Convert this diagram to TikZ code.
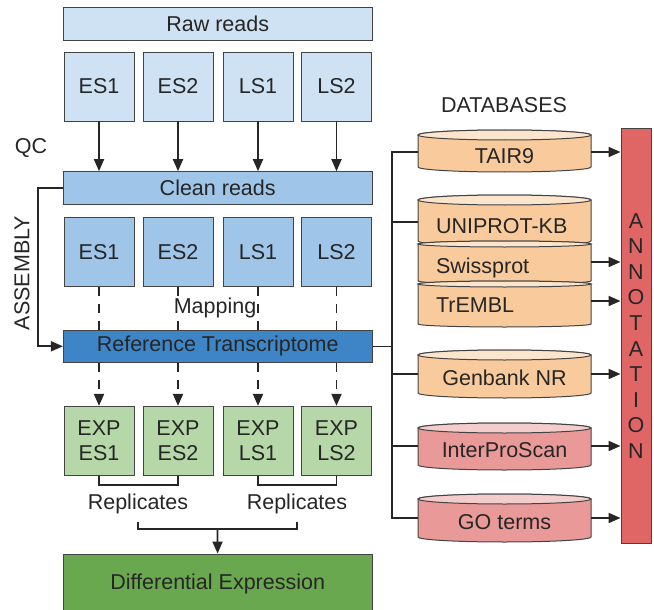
\documentclass[tikz,border=0pt]{standalone}
\usepackage{fontspec}
\setmainfont{Liberation Sans}
\usetikzlibrary{arrows.meta,positioning,calc}

\definecolor{rawblue}{HTML}{CFE2F3}
\definecolor{cleanblue}{HTML}{9FC5E8}
\definecolor{refblue}{HTML}{3D85C6}
\definecolor{expgreen}{HTML}{B6D7A8}
\definecolor{diffgreen}{HTML}{6AA84F}
\definecolor{dborange}{HTML}{F9CB9C}
\definecolor{dborangelid}{HTML}{FCE5CD}
\definecolor{dbred}{HTML}{EA9999}
\definecolor{dbredlid}{HTML}{F4CCCC}
\definecolor{annotred}{HTML}{E06666}
\definecolor{edge}{HTML}{434343}

% database drum: top y, bottom y, lid radius, body colour, lid colour
\newcommand{\dbdrum}[5]{%
  \filldraw[draw=edge, line width=1pt, fill=#4] (418,#1) -- (418,#2)
    arc[start angle=180, end angle=360, x radius=86.5pt, y radius=#3pt]
    -- (591,#1)
    arc[start angle=0, end angle=180, x radius=86.5pt, y radius=#3pt] -- cycle;
  \filldraw[draw=edge, line width=1pt, fill=#5] (504.5,#1) ellipse[x radius=86.5pt, y radius=#3pt];
}

\begin{document}
\begin{tikzpicture}[
    x=1pt, y=1pt,
    every node/.style={font=\fontsize{21.5}{25}\selectfont, text=black!85},
    box/.style={draw=edge, line width=0.9pt, minimum width=70pt, minimum height=69pt, align=center, inner sep=0pt},
    wide/.style={draw=edge, line width=0.9pt, minimum width=308.7pt, minimum height=32.7pt, inner sep=0pt},
    dbtxt/.style={minimum width=173pt, inner sep=0pt, text height=22pt, text depth=0pt},
    dbleft/.style={text width=137pt, inner xsep=18pt, inner ysep=0pt, align=left, text height=22pt, text depth=0pt},
    arr/.style={-{Triangle[length=12pt, width=10pt]}, line width=1.8pt, black!85},
    dashln/.style={dash pattern=on 9pt off 8pt, line width=1.8pt, black!85},
    wire/.style={line width=1.6pt, black!85},
    lbl/.style={fill=white, inner sep=1pt}
]
\useasboundingbox (0,0) rectangle (654,-610);

% left column
\node[wide, fill=rawblue] (raw) at (217.7,-23.7) {Raw reads};
\node[box, fill=rawblue] (r1) at (99,-86.5) {ES1};
\node[box, fill=rawblue] (r2) at (178,-86.5) {ES2};
\node[box, fill=rawblue] (r3) at (258,-86.5) {LS1};
\node[box, fill=rawblue] (r4) at (336.5,-86.5) {LS2};
\node (qc) at (31,-148) {QC};
\node[wide, fill=cleanblue] (clean) at (217.7,-188) {Clean reads};
\node[box, fill=cleanblue] (c1) at (99,-251.7) {ES1};
\node[box, fill=cleanblue] (c2) at (178,-251.7) {ES2};
\node[box, fill=cleanblue] (c3) at (258,-251.7) {LS1};
\node[box, fill=cleanblue] (c4) at (336.5,-251.7) {LS2};
\node[rotate=90] (asm) at (22,-273) {ASSEMBLY};
\node[wide, fill=refblue] (ref) at (217.7,-346.3) {Reference Transcriptome};
\node[box, fill=expgreen] (e1) at (99,-440.8) {EXP\\ES1};
\node[box, fill=expgreen] (e2) at (178,-440.8) {EXP\\ES2};
\node[box, fill=expgreen] (e3) at (258,-440.8) {EXP\\LS1};
\node[box, fill=expgreen] (e4) at (336.5,-440.8) {EXP\\LS2};
\node (rep1) at (138,-504) {Replicates};
\node (rep2) at (297,-504) {Replicates};
\node[wide, minimum height=60pt, fill=diffgreen] (diff) at (217.7,-584) {Differential Expression};

% databases
\node (dbhead) at (504,-105) {DATABASES};
\dbdrum{-135}{-167}{5}{dborange}{dborangelid}
\dbdrum{-200}{-241}{5}{dborange}{dborangelid}
\dbdrum{-244}{-281}{3}{dborange}{dborangelid}
\dbdrum{-284}{-324}{3}{dborange}{dborangelid}
\dbdrum{-355}{-393}{5}{dborange}{dborangelid}
\dbdrum{-428}{-465}{5}{dbred}{dbredlid}
\dbdrum{-499}{-537}{5}{dbred}{dbredlid}
\node[dbtxt] (tair) at (504.5,-152) {TAIR9};
\node[dbleft] (uniprot) at (504.5,-222) {UNIPROT-KB};
\node[dbleft] (swiss) at (504.5,-262) {Swissprot};
\node[dbleft] (trembl) at (504.5,-301) {TrEMBL};
\node[dbtxt] (genbank) at (504.5,-374) {Genbank NR};
\node[dbtxt] (interpro) at (504.5,-446) {InterProScan};
\node[dbtxt] (goterms) at (504.5,-518) {GO terms};
\node[draw=edge, line width=0.9pt, fill=annotred, minimum width=30pt, minimum height=415pt,
      inner sep=0pt, align=center, font=\fontsize{21.5}{25.6}\selectfont] (annot) at (636,-336)
      {A\\N\\N\\O\\T\\A\\T\\I\\O\\N};

% QC
\draw[arr] (r1) -- (r1 |- clean.north);
\draw[arr] (r2) -- (r2 |- clean.north);
\draw[arr] (r3) -- (r3 |- clean.north);
\draw[arr] (r4) -- (r4 |- clean.north);

% assembly
\draw[arr] (clean.west) -- ++(-25,0) |- (ref.west);

% mapping
\draw[dashln] (c1) -- (c1 |- ref.north);
\draw[dashln] (c2) -- (c2 |- ref.north);
\draw[dashln] (c3) -- (c3 |- ref.north);
\draw[dashln] (c4) -- (c4 |- ref.north);
\node[lbl] (map) at (215,-308) {Mapping};
\draw[dashln, arr] (ref.south -| e1) -- (e1);
\draw[dashln, arr] (ref.south -| e2) -- (e2);
\draw[dashln, arr] (ref.south -| e3) -- (e3);
\draw[dashln, arr] (ref.south -| e4) -- (e4);

% replicates
\draw[wire] (e1.south) -- ++(0,-9) -| (e2.south);
\draw[wire] (e3.south) -- ++(0,-9) -| (e4.south);
\draw[wire] ($(rep1)+(0,-18)$) -- ++(0,-7) -| ($(rep2)+(0,-18)$);
\draw[arr] ($(rep1)!0.5!(rep2)+(0,-25)$) -- (diff);

% annotation bus
\draw[wire] (tair.west) -- ++(-26,0) coordinate (bus) |- (goterms.west);
\draw[wire] (ref.east) -- (ref.east -| bus);
\draw[wire] (uniprot.west) -- (uniprot.west -| bus);
\draw[wire] (genbank.west) -- (genbank.west -| bus);
\draw[wire] (interpro.west) -- (interpro.west -| bus);
\draw[arr] (tair.east) -- (tair.east -| annot.west);
\draw[arr] (swiss.east) -- (swiss.east -| annot.west);
\draw[arr] (trembl.east) -- (trembl.east -| annot.west);
\draw[arr] (genbank.east) -- (genbank.east -| annot.west);
\draw[arr] (interpro.east) -- (interpro.east -| annot.west);
\draw[arr] (goterms.east) -- (goterms.east -| annot.west);
\end{tikzpicture}
\end{document}
